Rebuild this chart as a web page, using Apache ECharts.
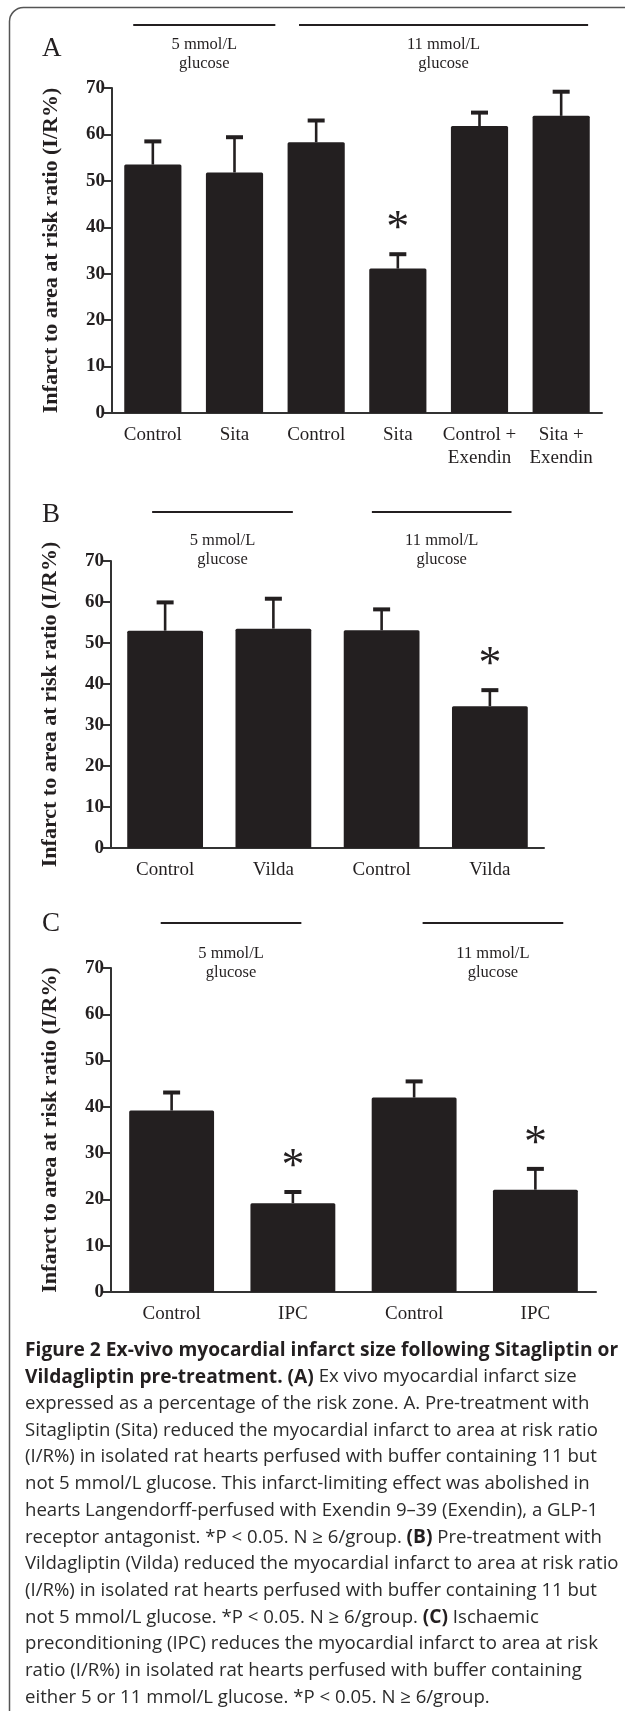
<!DOCTYPE html>
<html>
<head>
<meta charset="utf-8">
<script src="https://cdn.jsdelivr.net/npm/echarts@6.0.0/dist/echarts.min.js"></script>
<style>
  html, body { margin: 0; padding: 0; background: #fff; }
  #main { width: 625px; height: 1711px; }
</style>
</head>
<body>
<div id="main"></div>
<script>
// panel A - sitagliptin
const catsA = ['Control', 'Sita', 'Control', 'Sita', 'Control +\nExendin', 'Sita +\nExendin'];
const meanA = [53.5, 51.8, 58.3, 31.1, 61.8, 64.0];
const semA = [5.0, 7.6, 4.7, 3.1, 2.9, 5.2];
const sigA = [0, 0, 0, 1, 0, 0];
const groupsA = [
    { label: '5 mmol/L\nglucose', from: 0, to: 1 },
    { label: '11 mmol/L\nglucose', from: 2, to: 5 }
];

// panel B - vildagliptin
const catsB = ['Control', 'Vilda', 'Control', 'Vilda'];
const meanB = [53.0, 53.5, 53.1, 34.6];
const semB = [6.9, 7.3, 5.1, 3.9];
const sigB = [0, 0, 0, 1];
const groupsB = [
    { label: '5 mmol/L\nglucose', from: 0, to: 1 },
    { label: '11 mmol/L\nglucose', from: 2, to: 3 }
];

// panel C - IPC
const catsC = ['Control', 'IPC', 'Control', 'IPC'];
const meanC = [39.2, 19.2, 42.0, 22.1];
const semC = [3.9, 2.4, 3.5, 4.5];
const sigC = [0, 1, 0, 1];
const groupsC = [
    { label: '5 mmol/L\nglucose', from: 0, to: 1 },
    { label: '11 mmol/L\nglucose', from: 2, to: 3 }
];

const yTicks = [0, 10, 20, 30, 40, 50, 60, 70];
const yName = 'Infarct to area at risk ratio (I/R%)';

const ink = '#231f20';
const serif = '"Liberation Serif", "Times New Roman", serif';
const sans = '"Open Sans", "Noto Sans", sans-serif';

// layout of each panel (pixels), kept apart from the data
const panels = [
    { letter: 'A', letterY: 48, grid: { left: 112, top: 88, width: 490, height: 325 },
      lineDy: -63, textDy: -34, pads: [[0.24, 0.5], [0.21, 0.33]], cats: catsA, mean: meanA, sem: semA, sig: sigA, groups: groupsA },
    { letter: 'B', letterY: 514, grid: { left: 111, top: 561, width: 433, height: 287 },
      lineDy: -49, textDy: -11, pads: [[0.12, 0.18], [0.09, 0.2]], cats: catsB, mean: meanB, sem: semB, sig: sigB, groups: groupsB },
    { letter: 'C', letterY: 923, grid: { left: 111, top: 968, width: 485, height: 324 },
      lineDy: -45, textDy: -5, pads: [[0.09, 0.07], [-0.07, 0.23]], cats: catsC, mean: meanC, sem: semC, sig: sigC, groups: groupsC }
];

const caption = [
    '{b|Figure 2 Ex-vivo myocardial infarct size following Sitagliptin or}',
    '{b|Vildagliptin pre-treatment. (A)} Ex vivo myocardial infarct size',
    'expressed as a percentage of the risk zone. A. Pre-treatment with',
    'Sitagliptin (Sita) reduced the myocardial infarct to area at risk ratio',
    '(I/R%) in isolated rat hearts perfused with buffer containing 11 but',
    'not 5 mmol/L glucose. This infarct-limiting effect was abolished in',
    'hearts Langendorff-perfused with Exendin 9\u201339 (Exendin), a GLP-1',
    'receptor antagonist. *P < 0.05. N \u2265 6/group. {b|(B)} Pre-treatment with',
    'Vildagliptin (Vilda) reduced the myocardial infarct to area at risk ratio',
    '(I/R%) in isolated rat hearts perfused with buffer containing 11 but',
    'not 5 mmol/L glucose. *P < 0.05. N \u2265 6/group. {b|(C)} Ischaemic',
    'preconditioning (IPC) reduces the myocardial infarct to area at risk',
    'ratio (I/R%) in isolated rat hearts perfused with buffer containing',
    'either 5 or 11 mmol/L glucose. *P < 0.05. N \u2265 6/group.'
];

let myChart = echarts.init(document.getElementById('main'), null, { renderer: 'canvas' });

let grids = [], xAxes = [], yAxes = [], series = [], graphics = [];

panels.forEach(function (p, gi) {
    grids.push(Object.assign({ outerBoundsMode: 'none', containLabel: false }, p.grid));

    xAxes.push({
        type: 'category',
        gridIndex: gi,
        data: p.cats,
        axisLine: { lineStyle: { color: '#333', width: 2 } },
        axisTick: { alignWithLabel: true, length: 8, lineStyle: { color: '#333', width: 2 } },
        axisLabel: { color: ink, fontFamily: serif, fontSize: 19, lineHeight: 23, margin: 11, interval: 0 },
        splitLine: { show: false }
    });

    yAxes.push({
        type: 'value',
        gridIndex: gi,
        min: yTicks[0],
        max: yTicks[yTicks.length - 1],
        interval: 10,
        name: yName,
        nameLocation: 'middle',
        nameGap: 50,
        nameTextStyle: { color: ink, fontFamily: serif, fontSize: 22, fontWeight: 'bold' },
        axisLine: { show: true, lineStyle: { color: '#333', width: 2 } },
        axisTick: { show: true, length: 8, lineStyle: { color: '#333', width: 2 } },
        axisLabel: { color: ink, fontFamily: serif, fontSize: 19, fontWeight: 'bold', margin: 7 },
        splitLine: { show: false }
    });

    // bars
    series.push({
        type: 'bar',
        xAxisIndex: gi,
        yAxisIndex: gi,
        barWidth: '70%',
        itemStyle: { color: ink, borderRadius: 1.5 },
        silent: true,
        data: p.mean
    });

    // upper SEM whisker + significance star
    series.push({
        type: 'custom',
        xAxisIndex: gi,
        yAxisIndex: gi,
        clip: false,
        silent: true,
        encode: { x: 0, y: 1 },
        data: p.mean.map(function (m, i) { return [i, m, p.sem[i], p.sig[i]]; }),
        renderItem: function (params, api) {
            let idx = api.value(0);
            let base = api.coord([idx, api.value(1)]);
            let tip = api.coord([idx, api.value(1) + api.value(2)]);
            let kids = [
                { type: 'line', shape: { x1: base[0], y1: base[1], x2: tip[0], y2: tip[1] },
                  style: { stroke: ink, lineWidth: 2.6 } },
                { type: 'line', shape: { x1: tip[0] - 8.5, y1: tip[1], x2: tip[0] + 8.5, y2: tip[1] },
                  style: { stroke: ink, lineWidth: 4 } }
            ];
            if (api.value(3)) {
                kids.push({ type: 'text', style: { text: '*', x: tip[0], y: tip[1] - 24,
                    align: 'center', verticalAlign: 'middle', font: '46px ' + serif, fill: ink } });
            }
            return { type: 'group', children: kids };
        }
    });

    // glucose group bars above the plot
    series.push({
        type: 'custom',
        xAxisIndex: gi,
        yAxisIndex: gi,
        clip: false,
        silent: true,
        encode: { x: 0, y: 1 },
        data: p.groups.map(function (g) { return [g.from, g.to]; }),
        renderItem: function (params, api) {
            let i = params.dataIndex;
            let band = api.size([1, 0])[0];
            let a = api.coord([api.value(0), 70]);
            let b = api.coord([api.value(1), 70]);
            let x0 = a[0] - p.pads[i][0] * band;
            let x1 = b[0] + p.pads[i][1] * band;
            let top = a[1];
            return { type: 'group', children: [
                { type: 'line', shape: { x1: x0, y1: top + p.lineDy, x2: x1, y2: top + p.lineDy },
                  style: { stroke: ink, lineWidth: 2 } },
                { type: 'text', style: { text: p.groups[i].label, x: (x0 + x1) / 2, y: top + p.textDy,
                    align: 'center', verticalAlign: 'middle', font: '16.5px ' + serif, lineHeight: 19, fill: ink } }
            ] };
        }
    });

    graphics.push({
        type: 'text', left: 42, top: p.letterY - 13,
        style: { text: p.letter, font: '27px ' + serif, fill: ink }
    });
});

// rounded frame, running off the right and bottom edges
graphics.push({
    type: 'rect', z: -1,
    shape: { x: 9.5, y: 7.5, width: 700, height: 1800, r: 14 },
    style: { fill: 'none', stroke: '#555', lineWidth: 1.5 }
});

graphics.push({
    type: 'text', left: 25, top: 1337,
    style: {
        text: caption.join('\n'),
        fontFamily: sans,
        fontSize: 18.6,
        lineHeight: 26.7,
        fill: '#2b2b2b',
        rich: {
            b: { fontFamily: sans, fontSize: 19.2, fontWeight: 'bold', lineHeight: 26.7, fill: '#231f20' }
        }
    }
});

myChart.setOption({
    backgroundColor: '#fff',
    animation: false,
    grid: grids,
    xAxis: xAxes,
    yAxis: yAxes,
    series: series,
    graphic: graphics
});
</script>
</body>
</html>
